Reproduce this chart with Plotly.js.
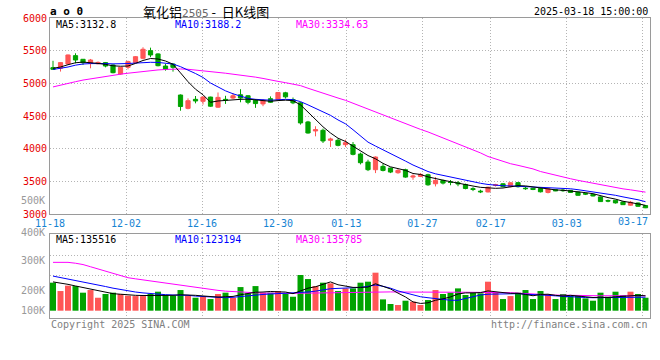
<!DOCTYPE html>
<html><head><meta charset="utf-8">
<script src="https://cdn.plot.ly/plotly-3.0.1.min.js"></script>
<style>html,body{margin:0;padding:0;background:#fff}#chart{width:660px;height:360px}</style>
</head><body><div id="chart"></div>
<script>
const dates = [
'11-18','11-19','11-20','11-21','11-22','11-25','11-26','11-27','11-28','11-29',
'12-02','12-03','12-04','12-05','12-06','12-09','12-10','12-11','12-12','12-13',
'12-16','12-17','12-18','12-19','12-20','12-23','12-24','12-25','12-26','12-27',
'12-30','12-31','01-02','01-03','01-06','01-07','01-08','01-09','01-10','01-13',
'01-14','01-15','01-16','01-17','01-20','01-21','01-22','01-23','01-24','01-27',
'02-05','02-06','02-07','02-10','02-11','02-12','02-13','02-14','02-17','02-18',
'02-19','02-20','02-21','02-24','02-25','02-26','02-27','02-28','03-03','03-04',
'03-05','03-06','03-07','03-10','03-11','03-12','03-13','03-14','03-17','03-18'];

const open = [5240,5230,5296,5424,5368,5306,5300,5317,5281,5143,
5245,5317,5383,5500,5450,5265,5296,4821,4617,4755,
4725,4790,4635,4755,4775,4825,4810,4740,4685,4765,
4750,4855,4752,4701,4409,4271,4281,4128,4128,4061,
4061,3918,3795,3678,3729,3703,3632,3678,3565,3575,
3601,3463,3514,3490,3478,3452,3388,3350,3338,3438,
3462,3418,3480,3395,3395,3390,3330,3372,3365,3362,
3335,3312,3300,3262,3205,3210,3184,3135,3168,3130];
const high = [5345,5320,5440,5460,5372,5373,5335,5327,5290,5250,
5347,5418,5552,5546,5460,5296,5306,4830,4770,4806,
4800,4795,4860,4810,4850,4910,4820,4760,4760,4800,
4860,4870,4783,4716,4425,4343,4307,4169,4154,4138,
4102,3939,3831,3882,3770,3708,3693,3693,3606,3626,
3616,3565,3524,3520,3505,3465,3410,3372,3418,3462,
3470,3485,3485,3415,3400,3395,3392,3380,3380,3368,
3340,3330,3305,3268,3222,3215,3190,3200,3175,3135];
const low = [5205,5180,5290,5306,5281,5230,5290,5245,5153,5130,
5214,5306,5368,5400,5260,5194,5179,4581,4602,4694,
4675,4640,4625,4685,4760,4710,4680,4625,4650,4700,
4745,4768,4681,4368,4230,4189,4087,4026,4036,4026,
3898,3759,3657,3626,3652,3626,3616,3555,3524,3565,
3432,3422,3452,3440,3425,3378,3350,3320,3330,3420,
3410,3410,3405,3370,3365,3330,3315,3350,3340,3322,
3280,3290,3270,3185,3180,3160,3140,3128,3110,3090];
const close = [5215,5317,5434,5357,5317,5357,5320,5265,5163,5245,
5332,5408,5521,5434,5270,5214,5245,4645,4734,4730,
4790,4650,4785,4745,4810,4775,4710,4690,4740,4710,
4860,4793,4701,4394,4240,4291,4118,4148,4051,4092,
3913,3785,3678,3872,3667,3642,3667,3565,3580,3606,
3447,3514,3473,3482,3462,3390,3376,3340,3410,3448,
3418,3478,3418,3388,3375,3340,3385,3355,3358,3330,
3286,3305,3276,3190,3198,3170,3143,3180,3118,3095];

const ma5 = [5230,5250,5285,5315,5325,5318,5305,5290,5268,5262,
5265,5305,5350,5380,5372,5342,5292,5160,5025,4910,
4825,4710,4730,4738,4750,4755,4758,4745,4738,4725,
4736,4742,4735,4670,4560,4440,4335,4240,4160,4110,
4040,3975,3895,3845,3775,3722,3695,3668,3620,3605,
3568,3538,3518,3495,3470,3452,3428,3408,3396,3393,
3398,3419,3434,3430,3415,3400,3381,3369,3363,3354,
3343,3327,3311,3277,3251,3228,3195,3176,3158,3132.8];
const ma10 = [5212,5228,5250,5278,5296,5302,5306,5303,5298,5298,
5303,5310,5318,5322,5320,5310,5295,5255,5205,5150,
5090,5005,4945,4885,4840,4800,4770,4755,4745,4742,
4748,4755,4750,4720,4670,4615,4560,4510,4440,4380,
4290,4200,4100,4040,3985,3920,3865,3810,3750,3695,
3650,3615,3590,3560,3535,3512,3490,3470,3452,3437,
3432,3430,3425,3416,3407,3400,3400,3400,3396,3386,
3372,3356,3342,3322,3304,3286,3262,3244,3218,3188.2];
const ma30 = [4945,4975,5000,5025,5050,5070,5090,5108,5125,5140,
5155,5170,5185,5195,5205,5212,5218,5220,5215,5205,
5195,5180,5168,5155,5140,5128,5112,5095,5075,5058,
5030,5010,4990,4965,4925,4885,4845,4810,4775,4740,
4695,4650,4605,4560,4510,4465,4420,4375,4330,4295,
4256,4210,4165,4120,4075,4030,3985,3935,3880,3840,
3800,3770,3745,3720,3690,3650,3620,3590,3565,3540,
3515,3492,3470,3448,3425,3405,3385,3370,3355,3334.63];

const volume = [255000,179000,228000,224000,164000,188000,118000,152000,164000,152000,
137000,133000,133000,152000,173000,143000,137000,188000,137000,118000,
127000,106000,152000,164000,118000,215000,158000,224000,164000,164000,
179000,152000,127000,325000,288000,224000,255000,249000,179000,203000,
203000,255000,264000,346000,103000,61000,52000,91000,82000,52000,
97000,188000,152000,164000,203000,143000,164000,158000,264000,164000,
106000,133000,164000,188000,106000,179000,143000,106000,152000,143000,
136000,112000,91000,164000,127000,173000,143000,173000,152000,118000];
const volMa5 = [262000,252000,240000,225000,210000,195000,180000,166000,155000,150000,
143000,140000,138000,137000,138000,140000,140000,145000,145000,140000,
134000,128000,124000,127000,130000,145000,155000,168000,170000,175000,
172000,170000,155000,180000,205000,218000,240000,262000,236000,222000,
212000,212000,215000,245000,225000,198000,160000,125000,80000,66000,
72000,95000,108000,125000,152000,162000,162000,165000,180000,175000,
165000,158000,158000,148000,136000,148000,150000,140000,134000,140000,
132000,126000,120000,122000,120000,126000,132000,140000,140000,135516];
const volMa10 = [315000,302000,290000,278000,265000,250000,235000,220000,205000,192000,
180000,170000,162000,155000,150000,146000,143000,142000,140000,133000,
128000,124000,120000,118000,122000,130000,138000,143000,148000,152000,
155000,158000,160000,164000,170000,178000,188000,200000,203000,205000,
207000,212000,222000,234000,222000,205000,180000,160000,140000,127000,
118000,110000,100000,95000,95000,110000,125000,143000,150000,152000,
155000,158000,155000,150000,148000,145000,140000,135000,130000,127000,
125000,120000,118000,118000,120000,120000,121000,121000,122000,123194];
const volMa30 = [440000,440000,440000,432000,420000,400000,380000,360000,340000,318000,
300000,290000,280000,273000,265000,255000,245000,235000,225000,215000,
205000,192000,185000,178000,173000,170000,166000,163000,160000,158000,
158000,158000,158000,159000,160000,162000,163000,164000,166000,168000,
170000,172000,173000,173000,172000,171000,170000,169000,169000,169000,
168000,168000,168000,168000,168000,168000,168000,167000,167000,167000,
166000,164000,160000,155000,150000,147000,145000,142000,140000,139000,
138000,137000,137000,136000,136000,136000,136000,136000,136000,135785];

const tickDates = ['11-18','12-02','12-16','12-30','01-13','01-27','02-17','03-03','03-17'];
const priceTicks = [3000,3500,4000,4500,5000,5500,6000];
const volLabels = ['500K','400K','300K','200K','100K'];

const W = 660, H = 360, M = {l:50, r:10, t:18, b:42};
const px = x => (x - M.l) / (W - M.l - M.r);
const py = y => (H - M.b - y) / (H - M.t - M.b);
const MONO = 'DejaVu Sans Mono';
const RED = '#ff5656', GREEN = '#00a300';
const GRID = '#b4b4b4', FRAME = '#9a9a9a';
const DATE_BLUE = '#1583d3';

const idx = dates.map((d, i) => i);
// Sina spaces its date gridlines slightly wider than the candle slots
const gridStep = 7.6 / 7.5;
const tickvals = tickDates.map(d => dates.indexOf(d) * gridStep - 0.4);
const lastTick = tickDates[tickDates.length - 1];
// the last date label is pushed inside the frame, so it is drawn as an annotation
const ticktext = tickDates.map(d => d === lastTick ? '' : d);
const volColors = close.map((c, i) => c >= open[i] ? RED : GREEN);

const traces = [
  {type:'candlestick', x: idx, open, high, low, close, xaxis:'x', yaxis:'y',
   increasing:{line:{color:RED, width:1}, fillcolor:RED},
   decreasing:{line:{color:GREEN, width:1}, fillcolor:GREEN},
   whiskerwidth:0, hoverinfo:'skip', showlegend:false},
  {type:'scatter', mode:'lines', x: idx, y: ma30, line:{color:'#ff00ff', width:1}, xaxis:'x', yaxis:'y', hoverinfo:'skip'},
  {type:'scatter', mode:'lines', x: idx, y: ma10, line:{color:'#0000ff', width:1}, xaxis:'x', yaxis:'y', hoverinfo:'skip'},
  {type:'scatter', mode:'lines', x: idx, y: ma5, line:{color:'#000000', width:1}, xaxis:'x', yaxis:'y', hoverinfo:'skip'},
  {type:'bar', x: idx, y: volume, marker:{color: volColors, line:{width:0}}, xaxis:'x2', yaxis:'y2', hoverinfo:'skip'},
  {type:'scatter', mode:'lines', x: idx, y: volMa30, line:{color:'#ff00ff', width:1}, xaxis:'x2', yaxis:'y2', hoverinfo:'skip'},
  {type:'scatter', mode:'lines', x: idx, y: volMa10, line:{color:'#0000ff', width:1}, xaxis:'x2', yaxis:'y2', hoverinfo:'skip'},
  {type:'scatter', mode:'lines', x: idx, y: volMa5, line:{color:'#000000', width:1}, xaxis:'x2', yaxis:'y2', hoverinfo:'skip'}
];

const volPerPx = 9100;
const xCommon = {range:[-0.401, 79.6], tickvals, showgrid:true, gridcolor:GRID, griddash:'1px,2px', gridwidth:1,
  showline:true, mirror:true, linecolor:FRAME, linewidth:1, zeroline:false, ticks:'', fixedrange:true};

const ann = (text, x, y, xanchor, color, size, extra) => Object.assign({
  text, x: px(x), y: py(y), xref:'paper', yref:'paper', xanchor, yanchor:'middle', showarrow:false,
  font:{family:MONO, size, color}}, extra || {});

const last = a => a[a.length - 1];
const annotations = [
  ann('<b>a o 0</b>', 48, 12, 'left', '#000', 11),
  ann('氧化铝<span style="font-family:DejaVu Sans Mono;font-size:11px;fill:#666">2505</span>&nbsp;-&nbsp;&nbsp;日K线图', 206, 12, 'center', '#000', 13,
      {font:{family:'Noto Sans CJK SC', size:13, color:'#000'}}),
  ann('2025-03-18 15:00:00', 650, 12, 'right', '#000', 10),
  ann('MA5:' + last(ma5), 54, 24, 'left', '#000', 10),
  ann('MA10:' + last(ma10), 173, 24, 'left', '#0000ff', 10),
  ann('MA30:' + last(ma30), 294, 24, 'left', '#ff00ff', 10),
  ann('MA5:' + last(volMa5), 54, 239.5, 'left', '#000', 10),
  ann('MA10:' + last(volMa10), 173, 239.5, 'left', '#0000ff', 10),
  ann('MA30:' + last(volMa30), 294, 239.5, 'left', '#ff00ff', 10),
  ann(lastTick, 650, 222, 'right', DATE_BLUE, 10),
  ann(volLabels[0], 47, 200.7, 'right', '#999', 10),
  ann(volLabels[1], 47, 232.5, 'right', '#999', 10),
  ann(volLabels[2], 47, 260.7, 'right', '#999', 10),
  ann(volLabels[3], 47, 290, 'right', '#999', 10),
  ann(volLabels[4], 47, 310.7, 'right', '#999', 10),
  ann('Copyright 2025 SINA.COM', 49, 324, 'left', '#808080', 10),
  ann('http://finance.sina.com.cn', 650, 324, 'right', '#808080', 10)
];

const layout = {
  width: W, height: H, margin: M, paper_bgcolor:'#fff', plot_bgcolor:'#fff',
  showlegend:false, boxgap:0.2, bargap:0.2, hovermode:false,
  xaxis: Object.assign({}, xCommon, {anchor:'y', domain:[0,1], ticktext, rangeslider:{visible:false},
    tickfont:{family:MONO, size:10, color:DATE_BLUE}}),
  yaxis: {domain:[py(214), 1], range:[3000, 6000], tickvals: priceTicks, ticktext: priceTicks.map(String),
    tickfont:{family:MONO, size:10, color:'#e60000'}, showgrid:true, gridcolor:GRID, griddash:'1px,2px',
    showline:true, mirror:true, linecolor:FRAME, linewidth:1, zeroline:false, ticks:'', fixedrange:true},
  xaxis2: Object.assign({}, xCommon, {anchor:'y2', domain:[0,1], showticklabels:false, rangeslider:{visible:false}}),
  yaxis2: {domain:[0, py(234.3)], range:[-(318 - 310.7) * volPerPx, (310.7 - 234.3) * volPerPx],
    tickvals:[(310.7 - 275.7) * volPerPx, (310.7 - 255.7) * volPerPx], showticklabels:false,
    showgrid:true, gridcolor:GRID, griddash:'1px,2px', showline:true, mirror:true, linecolor:FRAME, linewidth:1,
    zeroline:false, ticks:'', fixedrange:true},
  annotations
};

Plotly.newPlot('chart', traces, layout, {staticPlot:true, displayModeBar:false});
</script>
</body></html>
